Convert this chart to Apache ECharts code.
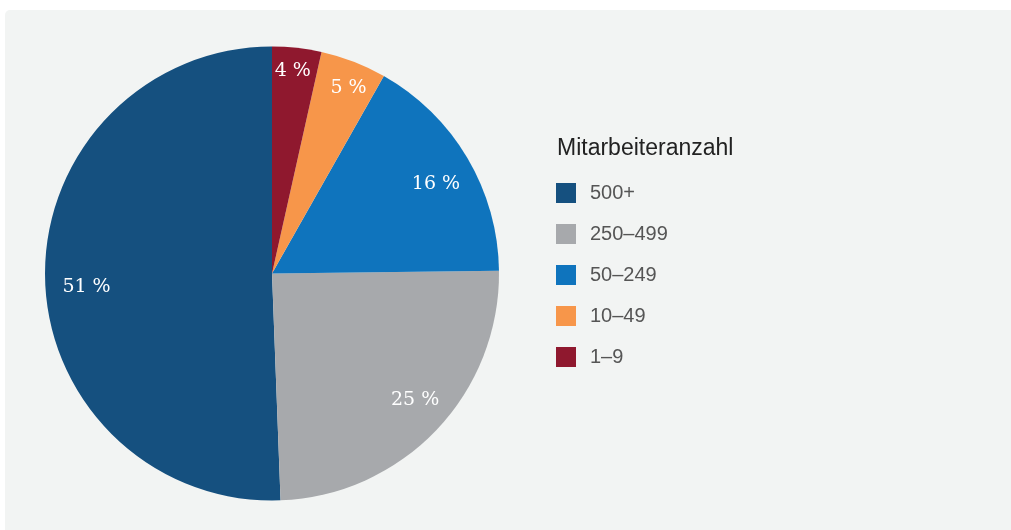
<!DOCTYPE html>
<html>
<head>
<meta charset="utf-8">
<script src="https://cdn.jsdelivr.net/npm/echarts@6/dist/echarts.min.js"></script>
<style>
  html, body { margin: 0; padding: 0; background: #ffffff; overflow: hidden; }
  #panel {
    position: absolute; left: 5px; top: 10px;
    width: 1016px; height: 530px;
    background: #f2f4f3; border-radius: 5px;
  }
</style>
</head>
<body>
<div id="panel"></div>
<script>
// Mitarbeiteranzahl (legend order)
const categories = ['500+', '250–499', '50–249', '10–49', '1–9'];
// slice shares
const shares = [50.6, 24.6, 16.6, 4.7, 3.5];
// printed labels
const labels = ['51 %', '25 %', '16 %', '5 %', '4 %'];
const colors = ['#15507f', '#a7a9ac', '#0f74bd', '#f7964a', '#8f182e'];
// small slices get their label further out
const smallSlice = [false, false, false, true, true];
// small nudges so the labels sit like in the original
const labelNudge = [[5, 10], [5, -5], [0, 8], [2, 8], [-2, 4]];

const chart = echarts.init(document.getElementById('panel'), null, { width: 1016, height: 530 });

const pieData = categories.map((name, i) => ({
    name: name,
    value: shares[i],
    itemStyle: { color: colors[i] }
}));

function labelRing(small) {
    return categories.map((name, i) => ({
        name: name,
        value: shares[i],
        label: { show: smallSlice[i] === small, formatter: labels[i], offset: labelNudge[i] }
    }));
}

const labelStyle = {
    position: 'inside',
    fontFamily: 'DejaVu Serif',
    fontSize: 19,
    color: '#ffffff'
};

chart.setOption({
    animation: false,
    title: {
        text: 'Mitarbeiteranzahl',
        left: 547,
        top: 122,
        textStyle: {
            fontFamily: 'Liberation Sans',
            fontSize: 23,
            fontWeight: 'normal',
            color: '#222222'
        }
    },
    legend: {
        orient: 'vertical',
        left: 546,
        top: 168,
        itemWidth: 20,
        itemHeight: 20,
        itemGap: 21,
        icon: 'rect',
        data: categories,
        textStyle: {
            fontFamily: 'Liberation Sans',
            fontSize: 20,
            color: '#555555',
            padding: [0, 0, 0, 9]
        }
    },
    series: [
        {
            name: 'Mitarbeiteranzahl',
            type: 'pie',
            center: [267, 263.5],
            radius: [0, 227],
            startAngle: 90,
            clockwise: false,
            silent: true,
            label: { show: false },
            labelLine: { show: false },
            data: pieData
        },
        {
            name: 'labels',
            type: 'pie',
            center: [267, 263.5],
            radius: [148, 227],
            startAngle: 90,
            clockwise: false,
            silent: true,
            itemStyle: { color: 'rgba(0,0,0,0)' },
            label: labelStyle,
            labelLine: { show: false },
            data: labelRing(false)
        },
        {
            name: 'labelsSmall',
            type: 'pie',
            center: [267, 263.5],
            radius: [182, 227],
            startAngle: 90,
            clockwise: false,
            silent: true,
            itemStyle: { color: 'rgba(0,0,0,0)' },
            label: labelStyle,
            labelLine: { show: false },
            data: labelRing(true)
        }
    ]
});
</script>
</body>
</html>
